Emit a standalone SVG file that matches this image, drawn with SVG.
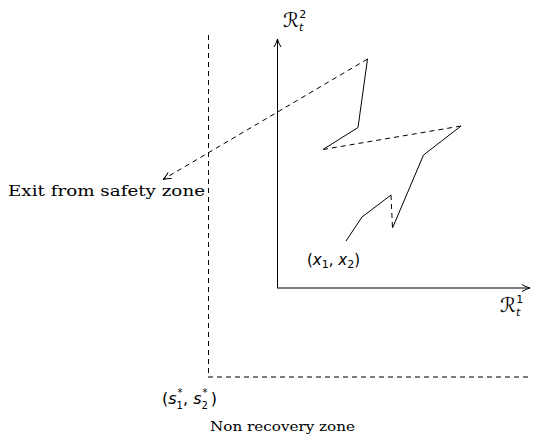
<svg xmlns="http://www.w3.org/2000/svg" width="550" height="435" viewBox="0 0 550 435">
<style>
.s{stroke:#000;stroke-width:1;fill:none}
.d{stroke:#000;stroke-width:1;fill:none;stroke-dasharray:5,4}
.t{font-family:"DejaVu Serif","Liberation Serif",serif;fill:#000}
.m{font-family:"DejaVu Sans","Liberation Sans",sans-serif;fill:#000}
.i{font-style:italic}
</style>
<defs>
<marker id="ah" markerWidth="10" markerHeight="10" refX="9" refY="5" orient="auto" markerUnits="userSpaceOnUse">
<path d="M1,1.5 Q5,4 9,5 Q5,6 1,8.5" fill="none" stroke="#000" stroke-width="1"/>
</marker>
</defs>
<g id="connectors">
<line class="s" x1="277.5" y1="288" x2="277.5" y2="39" marker-end="url(#ah)"/>
<line class="s" x1="277" y1="288" x2="530" y2="288" marker-end="url(#ah)"/>
<line class="d" x1="208.5" y1="35" x2="208.5" y2="377"/>
<line class="d" x1="208" y1="377" x2="530" y2="377"/>
<polyline class="s" points="346,241 362,217 391,195"/>
<line class="d" x1="391" y1="195" x2="392.5" y2="228"/>
<polyline class="s" points="392.5,228 423.5,155 461,126"/>
<line class="d" x1="461" y1="126" x2="323" y2="149.5"/>
<polyline class="s" points="323,149.5 358,127.5 367.5,59"/>
<line class="d" x1="367.5" y1="59" x2="163" y2="179.5" marker-end="url(#ah)"/>
</g>
<g id="label-r2">
<text class="m i" x="283" y="27" style="font-size:20px">ℛ<tspan style="font-size:11px" dy="4">t</tspan><tspan style="font-size:11px;font-style:normal" dx="-4" dy="-13">2</tspan></text>
</g>
<g id="label-r1">
<text class="m i" x="500" y="312" style="font-size:20px">ℛ<tspan style="font-size:11px" dy="4">t</tspan><tspan style="font-size:11px;font-style:normal" dx="-4" dy="-13">1</tspan></text>
</g>
<g id="label-exit">
<text class="t" x="8" y="196" style="font-size:15.5px" textLength="197" lengthAdjust="spacingAndGlyphs">Exit from safety zone</text>
</g>
<g id="label-x">
<text class="m" x="307" y="265" style="font-size:15px">(<tspan class="i">x</tspan><tspan style="font-size:11px" dy="3">1</tspan><tspan dy="-3">, </tspan><tspan class="i">x</tspan><tspan style="font-size:11px" dy="3">2</tspan><tspan dy="-3">)</tspan></text>
</g>
<g id="label-s">
<text class="m" x="162" y="404" style="font-size:16px">(<tspan class="i">s</tspan><tspan style="font-size:10px" dx="1" dy="-8">*</tspan><tspan style="font-size:10px" dx="-6" dy="13">1</tspan><tspan dy="-5">, </tspan><tspan class="i">s</tspan><tspan style="font-size:10px" dx="1" dy="-8">*</tspan><tspan style="font-size:10px" dx="-6" dy="13">2</tspan><tspan dx="3" dy="-5">)</tspan></text>
</g>
<g id="label-nonrecovery">
<text class="t" x="210" y="431" style="font-size:13.5px" textLength="145" lengthAdjust="spacingAndGlyphs">Non recovery zone</text>
</g>
</svg>
